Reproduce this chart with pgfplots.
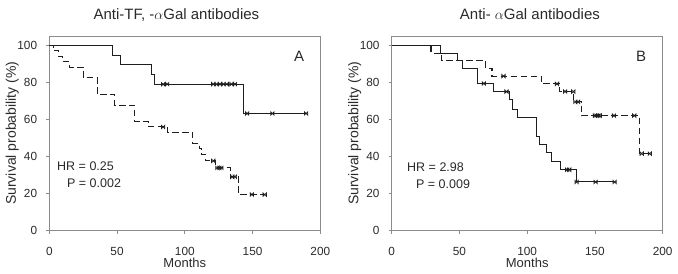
\documentclass[border=0pt]{standalone}
\usepackage{fontspec}
\setmainfont{Liberation Sans}
\usepackage{pgfplots}
\pgfplotsset{compat=1.18}
\definecolor{axgray}{HTML}{8C8C8C}
\definecolor{curvecol}{HTML}{1E1E1E}
\definecolor{txt}{HTML}{2A2A2A}
\pgfdeclareplotmark{bowtie}{%
  \pgfpathmoveto{\pgfqpoint{-\pgfplotmarksize}{-\pgfplotmarksize}}%
  \pgfpathlineto{\pgfqpoint{-\pgfplotmarksize}{\pgfplotmarksize}}%
  \pgfpathlineto{\pgfqpoint{\pgfplotmarksize}{-\pgfplotmarksize}}%
  \pgfpathlineto{\pgfqpoint{\pgfplotmarksize}{\pgfplotmarksize}}%
  \pgfpathclose
  \pgfusepathqstroke}
\tikzset{
  ann/.style={anchor=base west, inner sep=0pt, font=\fontsize{12.5bp}{14bp}\selectfont, text=txt},
  panel/.style={anchor=base west, inner sep=0pt, font=\fontsize{15bp}{17bp}\selectfont, text=txt},
}
\pgfplotsset{
  km/.style={
    scale only axis, width=271bp, height=194.5bp,
    xmin=0, xmax=200, ymin=0, ymax=105,
    xtick={0,50,...,200}, ytick={0,20,...,100},
    tick align=outside, tick pos=left, major tick length=3bp,
    axis line style={axgray, line width=0.8bp},
    tick style={axgray, line width=0.8bp},
    /pgf/number format/assume math mode=true,
    every tick label/.append style={font=\fontsize{11.8bp}{13bp}\selectfont, text=txt},
    xticklabel style={anchor=base, inner sep=0pt, yshift=-22bp},
    yticklabel style={anchor=east, inner sep=0pt, xshift=-9bp},
    xlabel={Months},
    xlabel style={at={(axis description cs:0.5,-0.19)}, anchor=base, inner sep=0pt, font=\fontsize{13bp}{15bp}\selectfont, text=txt},
    ylabel={Survival probability (\%)},
    ylabel style={at={(axis description cs:-0.1365,0.5)}, anchor=center, inner sep=0pt, font=\fontsize{14bp}{16bp}\selectfont, text=txt},
    every axis title/.style={anchor=base, inner sep=0pt, font=\fontsize{15bp}{17bp}\selectfont, text=txt},
    clip=false,
  },
  solidkm/.style={curvecol, line width=1.05bp, const plot, mark=none},
  dashkm/.style={curvecol, line width=1.05bp, const plot, mark=none, dash pattern=on 6.5bp off 3.5bp},
  cens/.style={only marks, mark=bowtie, mark size=1.7bp, mark options={curvecol, solid, line width=0.7bp}},
}
\begin{document}
\begin{tikzpicture}
\path[use as bounding box] (0,0) rectangle (678bp,274bp);
% ---------------- Panel A ----------------
\begin{axis}[km, at={(49.3bp,43.5bp)}, anchor=south west,
  title={Anti-TF, -$\alpha$Gal antibodies},
  title style={at={(axis description cs:0.469,1.0848)}}]
\addplot[solidkm] coordinates {
 (0,100) (46.5,94.7) (52.7,89.5) (75.3,84.2) (77.3,79.0) (143,63.2) (190,63.2)};
\addplot[dashkm] coordinates {
 (0,100) (3,97.1) (7,94.1) (10,91.2) (15,88.2) (25,82.4) (35.5,73.6) (48.3,67.6)
 (63,58.9) (73,55.9) (87,52.9) (106,47.1) (110.5,44.1) (112.5,41.2) (115.5,37.6)
 (123,33.8) (133.5,29.0) (139.5,19.4) (159,19.4)};
\addplot[cens] coordinates {
 (84,79.0) (87,79.0) (121,79.0) (123.5,79.0) (126,79.0) (128.5,79.0) (131,79.0)
 (134.5,79.0) (137,79.0) (146,63.2) (164.6,63.2) (189.5,63.2)};
\addplot[cens] coordinates {
 (84,55.9) (121,37.6) (124,33.8) (125.5,33.8) (127,33.8) (135,29.0) (137,29.0)
 (149.5,19.4) (159,19.4)};
\node[ann] at (axis cs:5.7,32.6) {HR = 0.25};
\node[ann] at (axis cs:13,23.4) {P = 0.002};
\node[panel] at (axis cs:180.6,91.4) {A};
\end{axis}
% ---------------- Panel B ----------------
\begin{axis}[km, at={(391.7bp,43.5bp)}, anchor=south west,
  title={Anti- $\alpha$Gal antibodies},
  title style={at={(axis description cs:0.51,1.0848)}}]
\addplot[solidkm] coordinates {
 (0,100) (36.3,95.8) (48.5,91.7) (52.2,87.5) (63.2,79.4) (75,75.0) (86.8,70.6)
 (89.4,65.5) (92.5,61.0) (107,51.0) (109.4,46.6) (114.4,42.0) (118,37.5)
 (124.5,32.8) (136.2,26.2) (164,26.2)};
\addplot[dashkm] coordinates {
 (0,100) (29,95.8) (36.8,91.7) (69.2,87.5) (74,83.3) (110.5,79.2) (124,75.0)
 (134,69.4) (140,62.0) (182.7,41.5) (190.5,41.5)};
\addplot[cens] coordinates {
 (68,79.4) (84.7,75.0) (129.5,32.8) (131,32.8) (136.5,26.2) (150.5,26.2) (164.5,26.2)};
\addplot[cens] coordinates {
 (82.5,83.3) (122,79.2) (128,75.0) (134,75.0) (135.5,69.4) (137.5,69.4)
 (150,62.0) (151.2,62.0) (152.4,62.0) (153.6,62.0) (164,62.0) (179,62.0)
 (184.5,41.5) (190.5,41.5)};
\node[ann] at (axis cs:11.3,31.8) {HR = 2.98};
\node[ann] at (axis cs:17.9,22.9) {P = 0.009};
\node[panel] at (axis cs:180.3,91.5) {B};
\end{axis}
\end{tikzpicture}
\end{document}
